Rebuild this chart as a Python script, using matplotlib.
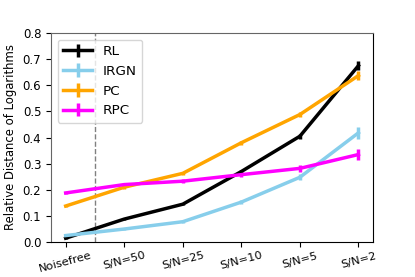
import matplotlib
matplotlib.use("Agg")
import matplotlib.pyplot as plt

labels = ["Noisefree", "S/N=50", "S/N=25", "S/N=10", "S/N=5", "S/N=2"]

rl = [0.015, 0.088, 0.145, 0.270, 0.405, 0.675]
rl_err = [0.003, 0.004, 0.005, 0.006, 0.010, 0.016]

irgn = [0.025, 0.050, 0.078, 0.153, 0.248, 0.418]
irgn_err = [0.003, 0.004, 0.005, 0.008, 0.012, 0.024]

pc = [0.138, 0.210, 0.263, 0.380, 0.488, 0.637]
pc_err = [0.005, 0.006, 0.006, 0.008, 0.010, 0.016]

rpc = [0.188, 0.220, 0.233, 0.258, 0.282, 0.335]
rpc_err = [0.004, 0.006, 0.007, 0.010, 0.012, 0.022]

x = list(range(len(labels)))

fig = plt.figure(figsize=(4.15, 2.77), dpi=100)
ax = fig.add_axes([0.123, 0.126, 0.776, 0.755])

series = [
    ("RL", rl, rl_err, "black"),
    ("IRGN", irgn, irgn_err, "skyblue"),
    ("PC", pc, pc_err, "orange"),
    ("RPC", rpc, rpc_err, "magenta"),
]
for name, vals, err, col in series:
    ax.errorbar(x, vals, yerr=err, color=col, lw=2.5, elinewidth=2.5, label=name)

ax.axvline(0.5, color="gray", ls="--", lw=1)

ax.set_ylim(0, 0.8)
ax.set_xticks(x)
ax.set_xticklabels(labels, rotation=15, fontsize=8.2)
ax.tick_params(axis="x", pad=2.5)
ax.tick_params(axis="y", labelsize=8.5)
ax.set_ylabel("Relative Distance of Logarithms", fontsize=8.4)
for side in ["left", "top"]:
    ax.spines[side].set_color("#666666")

ax.legend(loc="upper left", fontsize=9.7, handlelength=2.15)

fig.savefig("out.png", dpi=100)
